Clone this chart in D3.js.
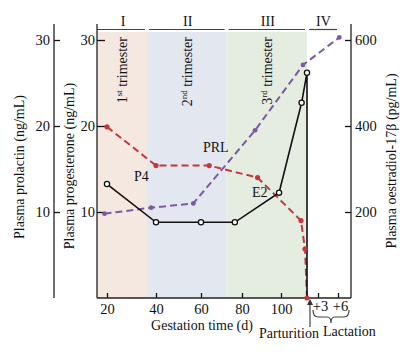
<!DOCTYPE html>
<html><head><meta charset="utf-8">
<script src="https://cdn.jsdelivr.net/npm/d3@7"></script>
<style>
body{margin:0;background:#fff;}
svg text{font-family:"Liberation Serif","Times New Roman",serif;fill:#111;}
</style></head>
<body><svg id="c" width="413" height="354"></svg>
<script>
// ---- data (gestation days; parturition ≈ day 113, +3 / +6 postpartum = 116 / 119) ----
const phases = [
  {label:"I",   start:16,   end:36.3, fill:"#f4e8e0", tri:"1", sup:"st"},
  {label:"II",  start:36.3, end:72.5, fill:"#e3e7ef", tri:"2", sup:"nd"},
  {label:"III", start:72.5, end:113,  fill:"#e5ede1", tri:"3", sup:"rd"},
  {label:"IV",  start:113,  end:119,  fill:null}
];
const gestTicks = [20, 40, 60, 80, 100];
const lactTicks = [116, 119];
const lactLabels = ["+3", "+6"];
const ngTicks = [10, 20, 30];
const pgTicks = [200, 400, 600];
const parturitionDay = 113;

// progesterone P4 (ng/mL)
const p4Days = [20, 40, 64, 88, 110, 112, 113];
const p4Vals = [19.9, 15.4, 15.4, 14.0, 9.0, 5.7, 0];
// prolactin PRL (ng/mL)
const prlDays = [19, 38, 56.6, 86.7, 111, 119.2];
const prlVals = [9.8, 10.5, 11.0, 19.5, 27.1, 30.3];
// oestradiol E2 (pg/mL)
const e2Days = [20, 40, 60, 76.5, 99, 110.3, 113, 113];
const e2Vals = [265, 176, 176, 176, 245, 454, 524, 0];
const e2Open = [true, true, true, true, true, true, true, false];

// ---- scales ----
const x = d3.scaleLinear()
  .domain([16, 20, 40, 60, 80, 100, 113, 116, 119, 121])
  .range([97, 107, 156, 201, 242, 281, 307, 318, 338, 351]);
const yNg = d3.scaleLinear().domain([0, 30]).range([298, 40]);
const yPg = d3.scaleLinear().domain([0, 600]).range([298, 40]);

const svg = d3.select("#c");
const yTop = 24, yBottom = 298;

// bands
svg.append("g").selectAll("rect").data(phases.filter(p => p.fill)).join("rect")
  .attr("x", d => x(d.start)).attr("width", d => x(d.end) - x(d.start))
  .attr("y", 32).attr("height", yBottom - 32).attr("fill", d => d.fill);

// header segments and roman numerals
const hdr = svg.append("g");
hdr.selectAll("line").data(phases).join("line")
  .attr("x1", (d, i) => x(d.start) + (i ? 2 : 0)).attr("x2", (d, i) => x(d.end) - (i === 3 ? 1 : 2))
  .attr("y1", 29.5).attr("y2", 29.5).attr("stroke", "#444").attr("stroke-width", 1.2);
hdr.selectAll("text").data(phases).join("text")
  .attr("x", d => (x(d.start) + x(d.end)) / 2 + 1).attr("y", 26)
  .attr("text-anchor", "middle").attr("font-size", 14).text(d => d.label);

// trimester labels
phases.filter(p => p.tri).forEach(p => {
  const cx = (x(p.start) + x(p.end)) / 2;
  const t = svg.append("text").attr("transform", `translate(${cx + 5},37) rotate(-90)`)
    .attr("text-anchor", "end").attr("font-size", 14);
  t.append("tspan").text(p.tri);
  t.append("tspan").attr("font-size", 9).attr("dy", -5).text(p.sup);
  t.append("tspan").attr("dy", 5).text(" trimester");
});

// axes
function styleAxis(g) {
  g.selectAll(".domain").remove();
  g.selectAll("line").attr("stroke", "#111").attr("stroke-width", 1.3);
  g.selectAll("text").attr("font-size", 14.5).attr("font-family", "Liberation Serif, serif").attr("fill", "#111");
}
// prolactin axis (far left)
svg.append("g").attr("transform", "translate(54,0)")
  .call(d3.axisLeft(yNg).tickValues(ngTicks).tickSizeInner(-6).tickSizeOuter(0).tickPadding(4))
  .call(styleAxis);
svg.append("line").attr("x1", 54).attr("x2", 54).attr("y1", yTop).attr("y2", yBottom).attr("stroke", "#222").attr("stroke-width", 1.3);
// progesterone axis (plot left)
svg.append("g").attr("transform", "translate(97,0)")
  .call(d3.axisLeft(yNg).tickValues(ngTicks).tickSizeInner(-8).tickSizeOuter(0).tickPadding(2))
  .call(styleAxis);
svg.append("line").attr("x1", 97).attr("x2", 97).attr("y1", yTop).attr("y2", yBottom).attr("stroke", "#222").attr("stroke-width", 1.3);
// oestradiol axis (right)
svg.append("g").attr("transform", "translate(351,0)")
  .call(d3.axisRight(yPg).tickValues(pgTicks).tickSizeInner(-6).tickSizeOuter(0).tickPadding(4))
  .call(styleAxis);
svg.append("line").attr("x1", 351).attr("x2", 351).attr("y1", yTop).attr("y2", yBottom).attr("stroke", "#222").attr("stroke-width", 1.3);
// x axis
svg.append("g").attr("transform", `translate(0,${yBottom})`)
  .call(d3.axisBottom(x).tickValues(gestTicks).tickSizeInner(-5).tickSizeOuter(0).tickPadding(6))
  .call(styleAxis);
svg.append("g").attr("transform", `translate(0,${yBottom})`)
  .call(d3.axisBottom(x).tickValues(lactTicks).tickFormat((d, i) => lactLabels[i]).tickSizeInner(-5).tickSizeOuter(0).tickPadding(3))
  .call(styleAxis)
  .call(g => g.selectAll("text").attr("dx", 2));
svg.append("line").attr("x1", 97).attr("x2", 351).attr("y1", yBottom).attr("y2", yBottom).attr("stroke", "#222").attr("stroke-width", 1.3);

// lines
const p4 = p4Days.map((d, i) => [d, p4Vals[i]]);
const prl = prlDays.map((d, i) => [d, prlVals[i]]);
const e2 = e2Days.map((d, i) => [d, e2Vals[i], e2Open[i]]);

svg.append("path").datum(p4)
  .attr("d", d3.line().x(d => x(d[0])).y(d => yNg(d[1])))
  .attr("fill", "none").attr("stroke", "#c8363b").attr("stroke-width", 2).attr("stroke-dasharray", "7,4");
svg.append("path").datum(prl)
  .attr("d", d3.line().x(d => x(d[0])).y(d => yNg(d[1])))
  .attr("fill", "none").attr("stroke", "#7b5aa3").attr("stroke-width", 2).attr("stroke-dasharray", "7,4");
svg.append("path").datum(e2)
  .attr("d", d3.line().x(d => x(d[0])).y(d => yPg(d[1])))
  .attr("fill", "none").attr("stroke", "#111").attr("stroke-width", 1.6);

svg.append("g").selectAll("circle").data(p4).join("circle")
  .attr("cx", d => x(d[0])).attr("cy", d => yNg(d[1])).attr("r", 2.6).attr("fill", "#c8363b");
svg.append("g").selectAll("circle").data(prl).join("circle")
  .attr("cx", d => x(d[0])).attr("cy", d => yNg(d[1])).attr("r", 2.4).attr("fill", "#7b5aa3");
svg.append("g").selectAll("circle").data(e2.filter(d => d[2])).join("circle")
  .attr("cx", d => x(d[0])).attr("cy", d => yPg(d[1])).attr("r", 2.6)
  .attr("fill", "#fff").attr("stroke", "#111").attr("stroke-width", 1.3);

// series labels
svg.append("text").attr("x", 134).attr("y", 181).attr("font-size", 14).text("P4");
svg.append("text").attr("x", 203).attr("y", 152).attr("font-size", 14).text("PRL");
svg.append("text").attr("x", 252).attr("y", 197).attr("font-size", 14).text("E2");

// axis titles
svg.append("text").attr("transform", "translate(19,167) rotate(-90)").attr("dy", "0.35em")
  .attr("text-anchor", "middle").attr("font-size", 14).text("Plasma prolactin (ng/mL)");
svg.append("text").attr("transform", "translate(69,166) rotate(-90)").attr("dy", "0.35em")
  .attr("text-anchor", "middle").attr("font-size", 14).text("Plasma progesterone (ng/mL)");
svg.append("text").attr("transform", "translate(391,161) rotate(-90)").attr("dy", "0.35em")
  .attr("text-anchor", "middle").attr("font-size", 14).text("Plasma oestradiol-17β (pg/mL)");
svg.append("text").attr("x", 202).attr("y", 330).attr("text-anchor", "middle").attr("font-size", 14).text("Gestation time (d)");

// parturition arrow
const px = x(parturitionDay) + 3;
svg.append("line").attr("x1", px).attr("x2", px).attr("y1", 327).attr("y2", 302).attr("stroke", "#444").attr("stroke-width", 1.2);
svg.append("path").attr("d", `M${px - 3},${305} L${px},${299} L${px + 3},${305} Z`).attr("fill", "#333");
svg.append("text").attr("x", 259).attr("y", 338).attr("font-size", 14).text("Parturition");

// lactation brace
const bx1 = x(parturitionDay) + 6, bx2 = x(121) - 2, bm = (bx1 + bx2) / 2;
svg.append("path")
  .attr("d", `M${bx1},310 Q${bx1},317 ${bx1 + 5},317 L${bm - 4},317 Q${bm},317 ${bm},323 Q${bm},317 ${bm + 4},317 L${bx2 - 5},317 Q${bx2},317 ${bx2},310`)
  .attr("fill", "none").attr("stroke", "#444").attr("stroke-width", 1.2);
svg.append("text").attr("x", 323).attr("y", 336).attr("font-size", 14).text("Lactation");
</script></body></html>
